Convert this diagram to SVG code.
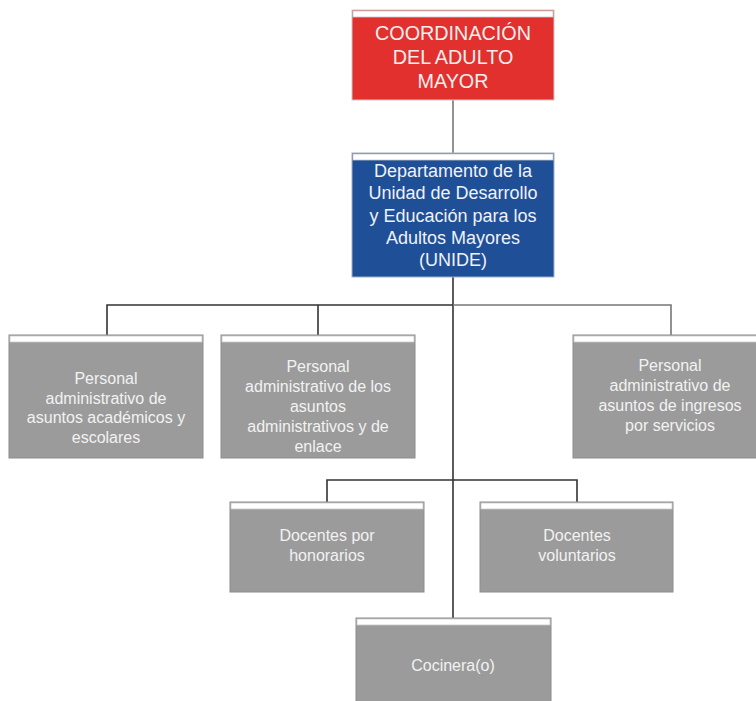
<svg xmlns="http://www.w3.org/2000/svg" width="756" height="701" viewBox="0 0 756 701">
<style>
.box{stroke:#8c8c8c;stroke-width:1}
.gray{fill:#9b9b9b}
.red{fill:#e2302e;stroke:#c9c9c9}
.blue{fill:#1f4f97;stroke:#9fb0c8}
.strip{fill:#ffffff;stroke:#c8c8c8;stroke-width:0.8}
text{font-family:"Liberation Sans",Arial,sans-serif;text-anchor:middle}
.t1{font-size:19.8px;fill:#f7eeee}
.t2{font-size:18px;fill:#f0f2f6}
.t3{font-size:16px;fill:#f2f2f2}
.c{fill:none;stroke:#333;stroke-width:1.6}
.cl{fill:none;stroke:#777;stroke-width:1.6}
</style>
<rect width="756" height="701" fill="#ffffff"/>
<g id="connectors">
<line class="cl" x1="453" y1="100" x2="453" y2="153"/>
<line class="c" x1="453" y1="277" x2="453" y2="618"/>
<polyline class="c" points="107,335 107,305 453,305"/>
<polyline class="cl" points="453,305 671,305 671,335"/>
<line class="c" x1="318" y1="305" x2="318" y2="335"/>
<polyline class="c" points="327,502 327,480 577,480 577,502"/>
</g>
<g id="coordinacion">
<rect class="box red" x="352" y="10" width="202" height="90"/>
<rect class="strip" x="353" y="11" width="200" height="6"/>
<text class="t1" x="453" y="40">COORDINACIÓN</text>
<text class="t1" x="453" y="64">DEL ADULTO</text>
<text class="t1" x="453" y="88">MAYOR</text>
</g>
<g id="unide">
<rect class="box blue" x="352" y="153" width="202" height="124"/>
<rect class="strip" x="353" y="154" width="200" height="6"/>
<text class="t2" x="453" y="177">Departamento de la</text>
<text class="t2" x="453" y="199">Unidad de Desarrollo</text>
<text class="t2" x="453" y="222">y Educación para los</text>
<text class="t2" x="453" y="244">Adultos Mayores</text>
<text class="t2" x="453" y="266">(UNIDE)</text>
</g>
<g id="academicos">
<rect class="box gray" x="9" y="335" width="194" height="123"/>
<rect class="strip" x="10" y="336" width="192" height="6"/>
<text class="t3" x="106" y="384">Personal</text>
<text class="t3" x="106" y="404">administrativo de</text>
<text class="t3" x="106" y="423">asuntos académicos y</text>
<text class="t3" x="106" y="443">escolares</text>
</g>
<g id="administrativos">
<rect class="box gray" x="221" y="335" width="194" height="123"/>
<rect class="strip" x="222" y="336" width="192" height="6"/>
<text class="t3" x="318" y="372">Personal</text>
<text class="t3" x="318" y="392">administrativo de los</text>
<text class="t3" x="318" y="412">asuntos</text>
<text class="t3" x="318" y="432">administrativos y de</text>
<text class="t3" x="318" y="452">enlace</text>
</g>
<g id="ingresos">
<rect class="box gray" x="573" y="335" width="194" height="123"/>
<rect class="strip" x="574" y="336" width="192" height="6"/>
<text class="t3" x="670" y="371">Personal</text>
<text class="t3" x="670" y="391">administrativo de</text>
<text class="t3" x="670" y="411">asuntos de ingresos</text>
<text class="t3" x="670" y="431">por servicios</text>
</g>
<g id="honorarios">
<rect class="box gray" x="230" y="502" width="194" height="90"/>
<rect class="strip" x="231" y="503" width="192" height="6"/>
<text class="t3" x="327" y="541">Docentes por</text>
<text class="t3" x="327" y="561">honorarios</text>
</g>
<g id="voluntarios">
<rect class="box gray" x="480" y="502" width="193" height="90"/>
<rect class="strip" x="481" y="503" width="191" height="6"/>
<text class="t3" x="577" y="541">Docentes</text>
<text class="t3" x="577" y="561">voluntarios</text>
</g>
<g id="cocinera">
<rect class="box gray" x="356" y="618" width="195" height="90"/>
<rect class="strip" x="357" y="619" width="193" height="6"/>
<text class="t3" x="453" y="671">Cocinera(o)</text>
</g>
</svg>
